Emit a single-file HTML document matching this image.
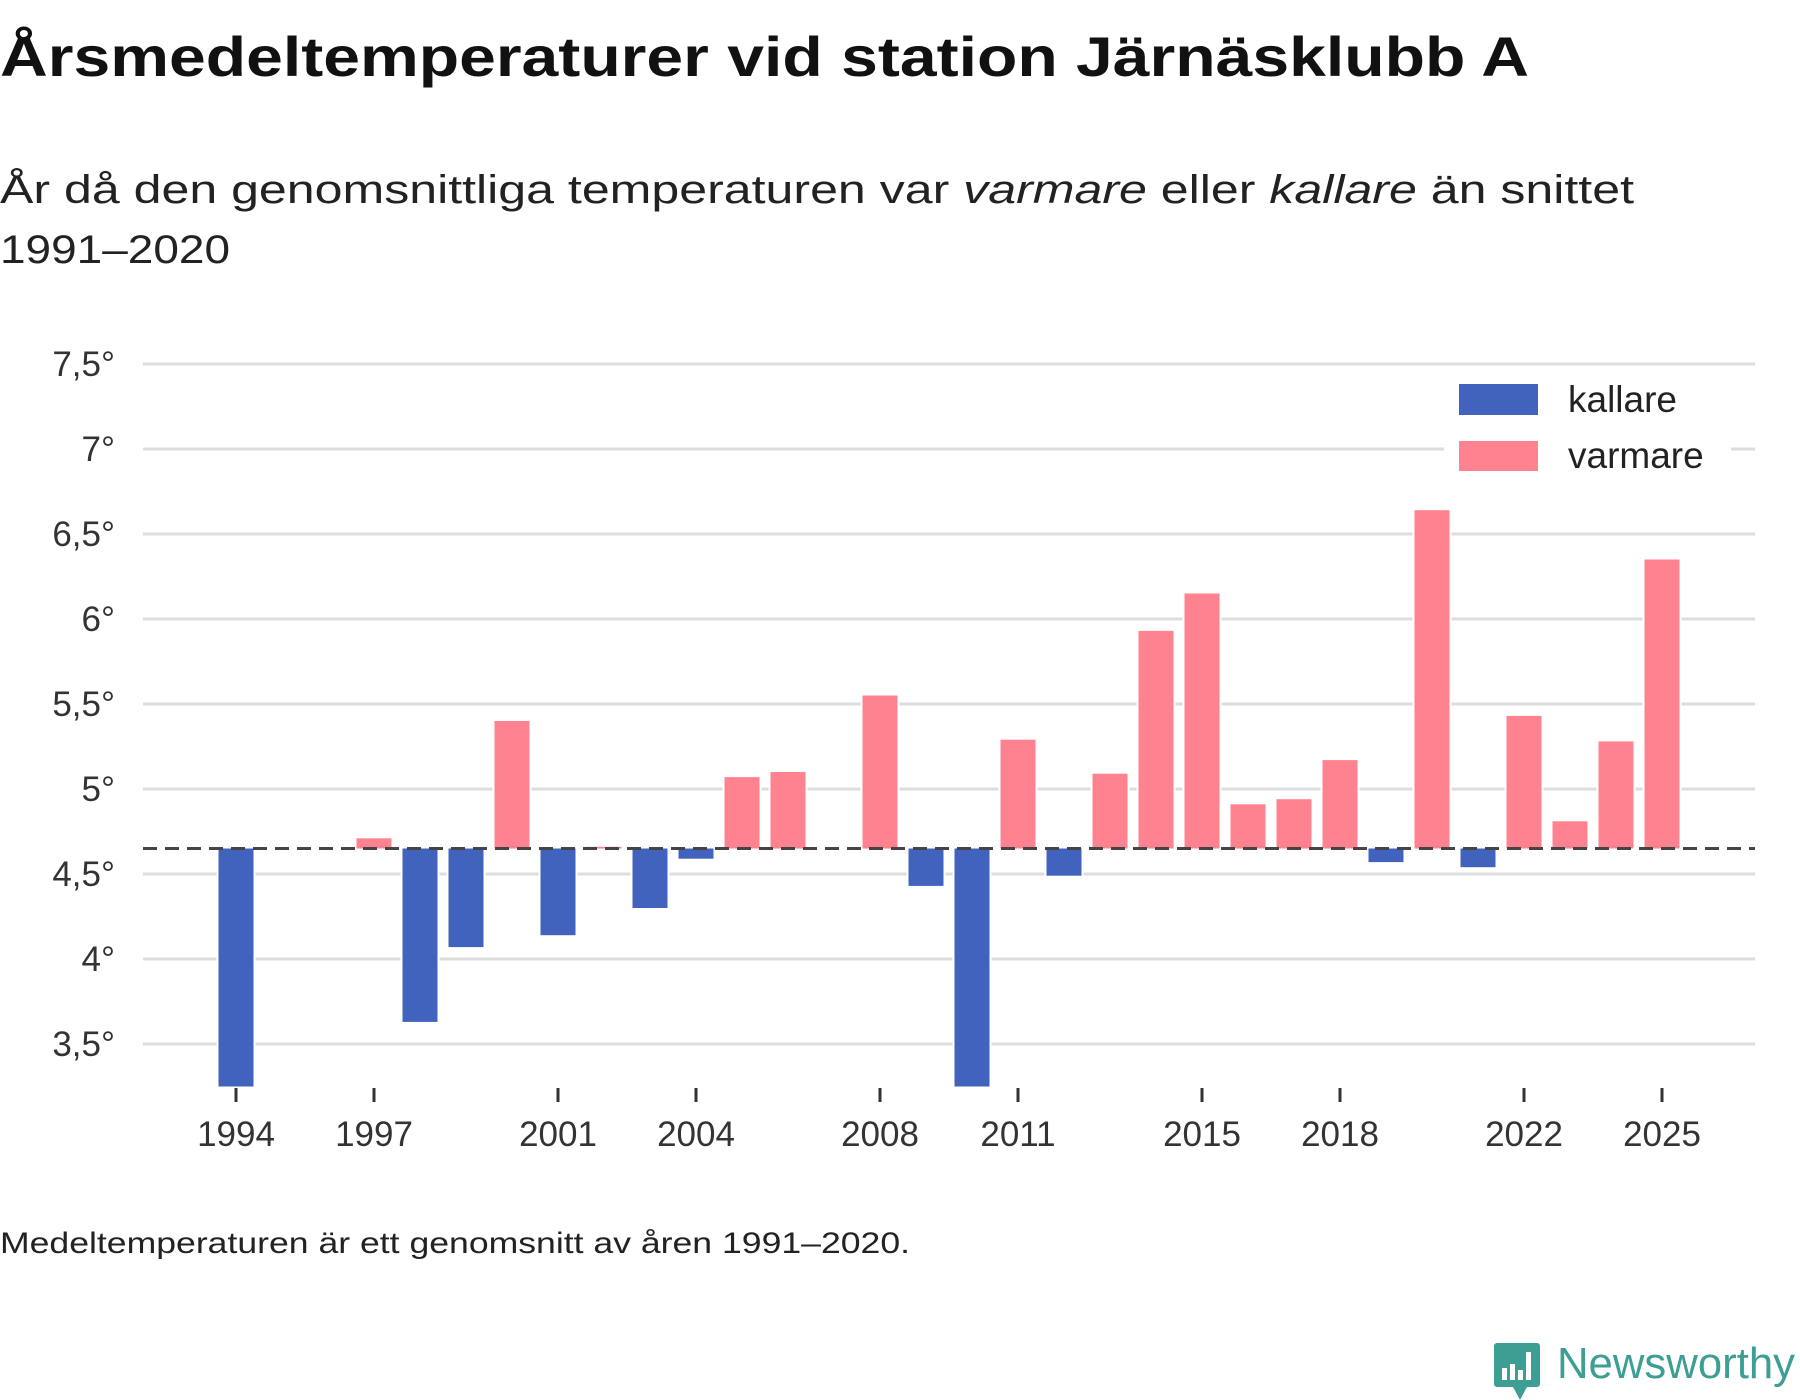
<!DOCTYPE html>
<html><head><meta charset="utf-8"><style>
html,body{margin:0;padding:0;background:#fff;}
svg{display:block;font-family:"Liberation Sans",sans-serif;}
</style></head><body>
<svg id="chart" width="1800" height="1400" viewBox="0 0 1800 1400">
<text x="0" y="76" font-size="56" font-weight="bold" fill="#111" textLength="1529" lengthAdjust="spacingAndGlyphs">Årsmedeltemperaturer vid station Järnäsklubb A</text>
<text x="0" y="203" font-size="40" fill="#222" textLength="1634" lengthAdjust="spacingAndGlyphs">År då den genomsnittliga temperaturen var <tspan font-style="italic">varmare</tspan> eller <tspan font-style="italic">kallare</tspan> än snittet</text>
<text x="0" y="263" font-size="40" fill="#222" textLength="230" lengthAdjust="spacingAndGlyphs">1991–2020</text>
<g id="grid"></g>
<g id="bars"></g>
<g id="xaxis"></g>
<line x1="143" x2="1755" id="baseline" stroke="#444" stroke-width="3" stroke-dasharray="14,8"/>
<g>
<rect x="1444" y="372" width="287" height="112" fill="#fff"/>
<rect x="1459" y="384" width="79" height="31" fill="#4263bd"/>
<text x="1568" y="412" font-size="37" fill="#222">kallare</text>
<rect x="1459" y="441" width="79" height="30" fill="#ff8291"/>
<text x="1568" y="468" font-size="37" fill="#222">varmare</text>
</g>
<text x="0" y="1253" font-size="30" fill="#222" textLength="910" lengthAdjust="spacingAndGlyphs">Medeltemperaturen är ett genomsnitt av åren 1991–2020.</text>
<g>
<path d="M1497 1343 h40 a3 3 0 0 1 3 3 v38 a3 3 0 0 1 -3 3 h-10 l-7 13 l-7 -13 h-16 a3 3 0 0 1 -3 -3 v-38 a3 3 0 0 1 3 -3z" fill="#3d9e94"/>
<rect x="1502" y="1368" width="5" height="12" fill="#fff"/><rect x="1510" y="1364" width="5" height="16" fill="#fff"/><rect x="1518" y="1370" width="5" height="10" fill="#fff"/><rect x="1526" y="1352" width="5" height="28" fill="#fff"/>
<text x="1557" y="1378" font-size="44" fill="#3d9e94" textLength="238" lengthAdjust="spacingAndGlyphs">Newsworthy</text>
</g>
</svg>
<script>
const years=[1994,1997,1998,1999,2000,2001,2002,2003,2004,2005,2006,2008,2009,2010,2011,2012,2013,2014,2015,2016,2017,2018,2019,2020,2021,2022,2023,2024,2025];
const temps=[3.1,4.71,3.63,4.07,5.40,4.14,4.66,4.30,4.59,5.07,5.10,5.55,4.43,3.1,5.29,4.49,5.09,5.93,6.15,4.91,4.94,5.17,4.57,6.64,4.54,5.43,4.81,5.28,6.35];
const average=4.65;
const yTicks=[3.5,4,4.5,5,5.5,6,6.5,7,7.5];
const xTicks=[1994,1997,2001,2004,2008,2011,2015,2018,2022,2025];
const NS="http://www.w3.org/2000/svg";
const yMin=3.25;
function y(v){return 364+(7.5-v)*170;}
function x(yr){return 236+(yr-1994)*46;}
function mk(t,a,p){const e=document.createElementNS(NS,t);for(const k in a)e.setAttribute(k,a[k]);p.appendChild(e);return e;}
const grid=document.getElementById('grid');
yTicks.forEach(v=>{
 const l=mk('line',{x1:143,x2:1755,y1:y(v),y2:y(v),stroke:'#dddddd','stroke-width':3},grid);
 
 
 const t=mk('text',{x:115,y:y(v)+12,'font-size':35,fill:'#333','text-anchor':'end'},grid);
 t.textContent=String(v).replace('.',',')+'°';
 
 
});
const bars=document.getElementById('bars');
const bottom=y(yMin);
years.forEach((yr,i)=>{
 const v=temps[i];
 const top=Math.min(y(v),y(average));
 const bot=Math.min(Math.max(y(v),y(average)),bottom);
 const r=mk('rect',{x:x(yr)-17.5,y:top,width:35,height:Math.max(bot-top,1),fill:v>=average?'#ff8291':'#4263bd',stroke:'#fff','stroke-width':4,'paint-order':'stroke'},bars);
 
 
});
const xa=document.getElementById('xaxis');
xTicks.forEach(yr=>{
 const l=mk('line',{x1:x(yr),x2:x(yr),y1:1088,y2:1102,stroke:'#333','stroke-width':3},xa);
 
 
 const t=mk('text',{x:x(yr),y:1146,'font-size':35,fill:'#333','text-anchor':'middle'},xa);
 t.textContent=yr;
 
 
});
const bl=document.getElementById('baseline');
bl.setAttribute('y1',y(average));bl.setAttribute('y2',y(average));
</script>
</body></html>
